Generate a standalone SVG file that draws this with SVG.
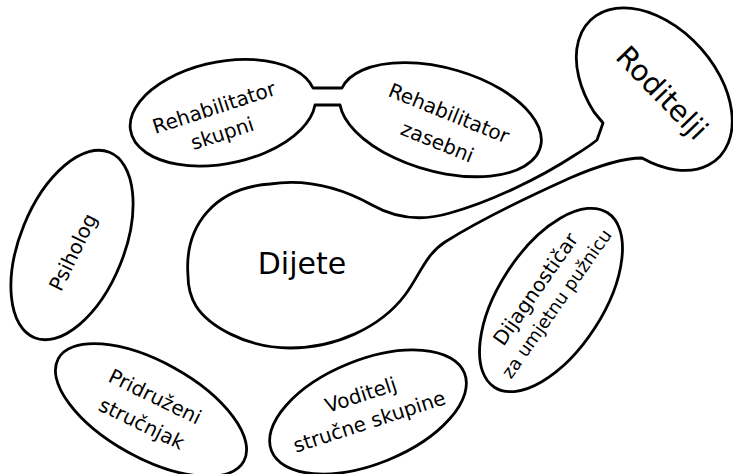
<svg xmlns="http://www.w3.org/2000/svg" width="733" height="474" viewBox="0 0 733 474">
<style>
.s{fill:#fff;stroke:#000;stroke-width:2.8;stroke-linejoin:round}
text{font-family:"DejaVu Sans","Liberation Sans",sans-serif;font-size:20px;fill:#000;text-anchor:middle}
</style>
<rect width="733" height="474" fill="#fff"/>
<g id="connectors"></g>
<g id="rehabilitatori">
<path class="s" d="M313,88 L342,88 A103.7,51.9 15.3 1 1 340,105 L315,105 A94,51 -11.5 1 1 313,88 Z"/>
<text transform="translate(218,120) rotate(-18)"><tspan x="0" y="-6">Rehabilitator</tspan><tspan x="0" y="21">skupni</tspan></text>
<text transform="translate(443,128) rotate(22)"><tspan x="0" y="-9">Rehabilitator</tspan><tspan x="0" y="22">zasebni</tspan></text>
</g>
<g id="dijete-roditelji">
<path class="s" d="M188,276 C184,225 215,188 270,184 C310,178 345,190 372,205 C395,218 420,222 450,213 C490,202 540,178 575,155 C585,149 592,144 597,140 L603,123 L594,112 A94,62 48 1 1 642,158 C625,158 600,165 570,178 C530,196 480,220 445,242 C425,255 420,275 405,295 C380,328 335,348 290,348 C245,348 208,325 196,306 C190,296 188,286 188,276 Z"/>
<text x="302" y="274" style="font-size:30px">Dijete</text>
<text transform="translate(662,93) rotate(46)" y="10" style="font-size:29px">Roditelji</text>
</g>
<g id="psiholog">
<ellipse class="s" cx="72" cy="245" rx="100" ry="52" transform="rotate(-68 72 245)"/>
<text transform="translate(73,252) rotate(-64)" y="7">Psiholog</text>
</g>
<g id="pridruzeni">
<ellipse class="s" cx="151" cy="410" rx="106" ry="48" transform="rotate(29 151 410)"/>
<text transform="translate(148,411) rotate(26)"><tspan x="0" y="-9">Pridruženi</tspan><tspan x="0" y="21">stručnjak</tspan></text>
</g>
<g id="voditelj">
<ellipse class="s" cx="368" cy="412" rx="104" ry="52" transform="rotate(-22 368 412)"/>
<text transform="translate(366,411) rotate(-18)"><tspan x="0" y="-10">Voditelj</tspan><tspan x="0" y="18">stručne skupine</tspan></text>
</g>
<g id="dijagnosticar">
<ellipse class="s" cx="551" cy="300" rx="104" ry="52" transform="rotate(-57 551 300)"/>
<text transform="translate(547,297) rotate(-55)"><tspan x="0" y="-7">Dijagnostičar</tspan><tspan x="0" y="18" style="font-size:18px">za umjetnu pužnicu</tspan></text>
</g>
</svg>
